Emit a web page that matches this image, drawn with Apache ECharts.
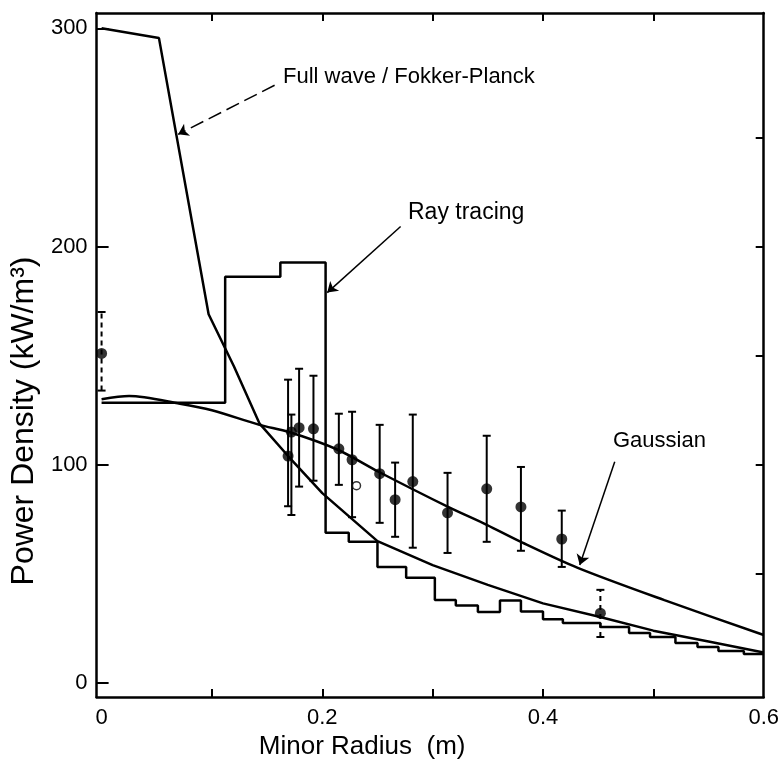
<!DOCTYPE html>
<html>
<head>
<meta charset="utf-8">
<script src="https://cdn.jsdelivr.net/npm/echarts@6/dist/echarts.min.js"></script>
<style>
  html, body { margin: 0; padding: 0; background: #fff; }
  #chart { width: 782px; height: 768px; }
</style>
</head>
<body>
<div id="chart"></div>
<script>
// Full wave / Fokker-Planck curve
var fwX = [0, 0.052, 0.097, 0.12, 0.143, 0.169, 0.2, 0.25, 0.3, 0.35, 0.4, 0.45, 0.5, 0.55, 0.6]
var fwY = [300, 295.5, 169, 145, 119, 104, 87, 65, 54, 45, 36.5, 30.5, 24, 19, 14]

// ray tracing histogram: bin edges + values
var rtEdges = [0, 0.112, 0.162, 0.203, 0.224, 0.25, 0.276, 0.302, 0.321, 0.341, 0.361, 0.38, 0.4, 0.418, 0.452, 0.478, 0.497, 0.52, 0.54, 0.559, 0.582, 0.6]
var rtVals = [128.4, 186.2, 192.7, 68.8, 64.7, 53.2, 48.2, 38, 35.5, 32.5, 37.8, 32.8, 29.2, 27.5, 25.7, 22.9, 21.1, 18.3, 16.5, 14.7, 13.3]

// gaussian fit
var gX = [0, 0.025, 0.071, 0.1, 0.143, 0.17, 0.2135, 0.251, 0.314, 0.349, 0.38, 0.4315, 0.51, 0.6]
var gY = [130, 131.5, 128, 125, 118.3, 115, 107, 96.8, 80.7, 72.5, 64.7, 52.8, 38, 22]

// measured points with error bars
var ptX = [0.169, 0.172, 0.179, 0.192, 0.215, 0.227, 0.252, 0.266, 0.282, 0.3135, 0.349, 0.38, 0.417]
var ptY = [104, 115, 117, 116.5, 107.3, 102.3, 95.9, 84, 92.3, 78, 89, 80.7, 66]
var ptLo = [81, 77, 90, 92.7, 90.8, 76, 73.4, 67, 62, 59.6, 64.7, 60.6, 53.2]
var ptHi = [139, 123, 144, 140.8, 123.4, 124.3, 118.3, 101, 123, 96.3, 113.3, 99, 79]

// points drawn with dashed error bars
var dX = [0, 0.452]
var dY = [151, 32]
var dLo = [134, 21.1]
var dHi = [170, 42.7]

// open circle
var oX = [0.231]
var oY = [90.4]

var xTicks = [0.1, 0.2, 0.3, 0.4, 0.5]
var xLabels = [0, 0.2, 0.4, 0.6]
var yLabels = [0, 100, 200, 300]
var yRightTicks = [50, 100, 150, 200, 250]

var FONT = 'Liberation Sans, Arial, sans-serif'

function zip(a, b) {
  return a.map(function (v, i) { return [v, b[i]] })
}

function stepData(edges, vals) {
  var d = vals.map(function (v, i) { return [edges[i], v] })
  d.push([edges[edges.length - 1], vals[vals.length - 1]])
  return d
}

function errBars(dashed) {
  return function (params, api) {
    var x = api.value(0)
    var lo = api.coord([x, api.value(1)])
    var hi = api.coord([x, api.value(2)])
    var hw = 4
    var st = { stroke: '#000', lineWidth: 2, lineDash: dashed ? [5, 4] : null }
    var cap = { stroke: '#000', lineWidth: 2 }
    return {
      type: 'group',
      children: [
        { type: 'line', shape: { x1: lo[0], y1: lo[1], x2: hi[0], y2: hi[1] }, style: st },
        { type: 'line', shape: { x1: hi[0] - hw, y1: hi[1], x2: hi[0] + hw, y2: hi[1] }, style: cap },
        { type: 'line', shape: { x1: lo[0] - hw, y1: lo[1], x2: lo[0] + hw, y2: lo[1] }, style: cap }
      ]
    }
  }
}

var myChart = echarts.init(document.getElementById('chart'))

var axisLine = { show: true, onZero: false, lineStyle: { color: '#000', width: 2.5 } }

var option = {
  backgroundColor: '#fff',
  animation: false,
  grid: { left: 96, right: 15, top: 13, bottom: 71 },
  xAxis: [
    {
      type: 'value',
      min: -0.0045,
      max: 0.6,
      position: 'bottom',
      axisLine: axisLine,
      splitLine: { show: false },
      axisTick: { inside: true, length: 8, customValues: xTicks, lineStyle: { color: '#000', width: 2 } },
      axisLabel: {
        customValues: xLabels,
        margin: 10,
        color: '#000',
        fontSize: 22,
        fontFamily: FONT,
        formatter: function (v) { return v === 0 ? '0' : v.toFixed(1) }
      },
      name: 'Minor Radius  (m)',
      nameLocation: 'middle',
      nameGap: 26,
      nameTextStyle: { color: '#000', fontSize: 26, fontFamily: FONT, padding: [0, 136, 0, 0] }
    },
    {
      type: 'value',
      min: -0.0045,
      max: 0.6,
      position: 'top',
      axisLine: axisLine,
      splitLine: { show: false },
      axisTick: { inside: true, length: 8, customValues: xTicks, lineStyle: { color: '#000', width: 2 } },
      axisLabel: { show: false }
    }
  ],
  yAxis: [
    {
      type: 'value',
      min: -6.4,
      max: 307,
      position: 'left',
      axisLine: axisLine,
      splitLine: { show: false },
      axisTick: { inside: true, length: 12, customValues: yLabels, lineStyle: { color: '#000', width: 2 } },
      axisLabel: {
        customValues: yLabels,
        margin: 9,
        color: '#000',
        fontSize: 22,
        fontFamily: FONT
      },
      name: 'Power Density (kW/m³)',
      nameLocation: 'middle',
      nameGap: 56,
      nameTextStyle: { color: '#000', fontSize: 32, fontFamily: FONT, padding: [0, 132, 0, 0] }
    },
    {
      type: 'value',
      min: -6.4,
      max: 307,
      position: 'right',
      axisLine: axisLine,
      splitLine: { show: false },
      axisTick: { inside: true, length: 8, customValues: yRightTicks, lineStyle: { color: '#000', width: 2 } },
      axisLabel: { show: false }
    }
  ],
  graphic: [
    { type: 'text', left: 283, top: 66, style: { text: 'Full wave / Fokker-Planck', font: '22px ' + FONT, fill: '#000' } },
    { type: 'text', left: 408, top: 201, style: { text: 'Ray tracing', font: '23px ' + FONT, fill: '#000' } },
    { type: 'text', left: 613, top: 430, style: { text: 'Gaussian', font: '22px ' + FONT, fill: '#000' } }
  ],
  series: [
    {
      name: 'Full wave / Fokker-Planck',
      type: 'line',
      data: zip(fwX, fwY),
      showSymbol: false,
      lineStyle: { color: '#000', width: 2.5 },
      markLine: {
        silent: true,
        symbol: ['none', 'arrow'],
        symbolSize: 10,
        label: { show: false },
        lineStyle: { color: '#000', width: 1.5, type: [14, 6] },
        data: [[{ coord: [0.1568, 273.9] }, { coord: [0.0694, 251.4] }]]
      }
    },
    {
      name: 'Ray tracing',
      type: 'line',
      step: 'end',
      data: stepData(rtEdges, rtVals),
      showSymbol: false,
      lineStyle: { color: '#000', width: 2.5 },
      markLine: {
        silent: true,
        symbol: ['none', 'arrow'],
        symbolSize: 10,
        label: { show: false },
        lineStyle: { color: '#000', width: 1.5, type: 'solid' },
        data: [[{ coord: [0.271, 209.2] }, { coord: [0.2045, 178.9] }]]
      }
    },
    {
      name: 'Gaussian',
      type: 'line',
      smooth: 0.3,
      data: zip(gX, gY),
      showSymbol: false,
      lineStyle: { color: '#000', width: 2.5 },
      markLine: {
        silent: true,
        symbol: ['none', 'arrow'],
        symbolSize: 10,
        label: { show: false },
        lineStyle: { color: '#000', width: 1.5, type: 'solid' },
        data: [[{ coord: [0.465, 101.4] }, { coord: [0.4333, 54.1] }]]
      }
    },
    {
      type: 'custom',
      renderItem: errBars(false),
      encode: { x: 0, y: [1, 2] },
      data: ptX.map(function (x, i) { return [x, ptLo[i], ptHi[i]] }),
      z: 3
    },
    {
      type: 'custom',
      renderItem: errBars(true),
      encode: { x: 0, y: [1, 2] },
      data: dX.map(function (x, i) { return [x, dLo[i], dHi[i]] }),
      z: 3
    },
    {
      type: 'scatter',
      data: zip(ptX, ptY).concat(zip(dX, dY)),
      symbol: 'circle',
      symbolSize: 11,
      itemStyle: { color: '#000' },
      z: 4
    },
    {
      type: 'scatter',
      data: zip(oX, oY),
      symbol: 'circle',
      symbolSize: 8,
      itemStyle: { color: '#fff', borderColor: '#000', borderWidth: 1.5 },
      z: 4
    }
  ]
}

option && myChart.setOption(option)
</script>
</body>
</html>
